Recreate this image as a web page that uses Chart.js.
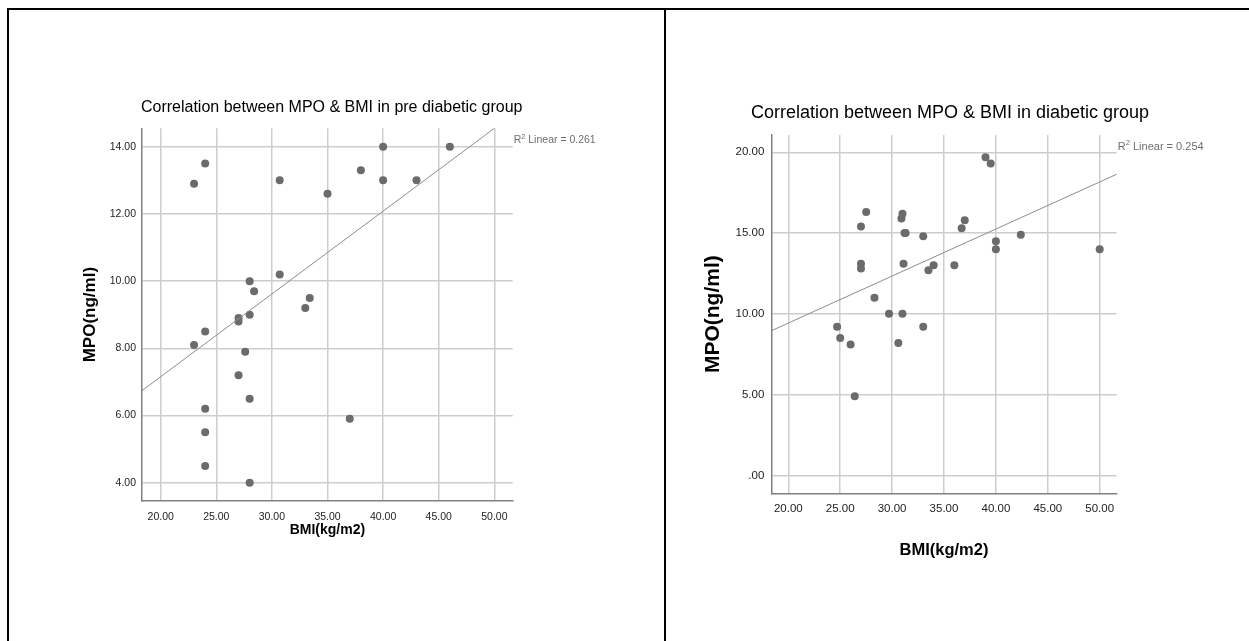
<!DOCTYPE html>
<html>
<head>
<meta charset="utf-8">
<title>Correlation between MPO & BMI</title>
<script src="https://cdn.jsdelivr.net/npm/chart.js@4.4.1/dist/chart.umd.min.js"></script>
<style>
  body { margin: 0; background: #fff; }
  .page { position: relative; width: 1249px; height: 641px; overflow: hidden; }
  .rule { position: absolute; background: #000; }
  canvas { position: absolute; }
</style>
</head>
<body>
<div class="page">
  <!-- table frame around the two figures -->
  <div class="rule" style="left:7px; top:8px; width:1242px; height:2px;"></div>
  <div class="rule" style="left:7px; top:8px; width:2px; height:633px;"></div>
  <div class="rule" style="left:664px; top:8px; width:2px; height:633px;"></div>

  <canvas id="preChart" width="544" height="460" style="left:60px; top:90px;"></canvas>
  <canvas id="diaChart" width="520" height="480" style="left:690px; top:90px;"></canvas>
</div>

<script>
// Pre diabetic group (BMI, MPO)
const preBmi = [23, 24, 30.7, 35, 38, 40, 40, 43, 46, 28, 28.4, 30.7, 33.4, 33, 27, 27, 28, 24, 23, 27.6, 27, 28, 24, 24, 24, 28, 37];
const preMpo = [12.9, 13.5, 13.0, 12.6, 13.3, 14.0, 13.0, 13.0, 14.0, 10.0, 9.7, 10.2, 9.5, 9.2, 8.9, 8.8, 9.0, 8.5, 8.1, 7.9, 7.2, 6.5, 6.2, 5.5, 4.5, 4.0, 5.9];
const preFitBmi = [18.32, 50];
const preFitMpo = [6.74, 14.55];
const preR2 = '0.261';

// Diabetic group
const diaBmi = [39, 39.5, 27.5, 27, 31, 30.9, 31.2, 31.3, 33, 36.7, 37, 40, 40, 42.4, 50, 27, 27, 31.1, 33.5, 34, 36, 28.3, 29.7, 31, 24.7, 25, 26, 30.6, 33, 26.4];
const diaMpo = [19.7, 19.3, 16.3, 15.4, 16.2, 15.9, 15.0, 15.0, 14.8, 15.3, 15.8, 14.5, 14.0, 14.9, 14.0, 13.1, 12.8, 13.1, 12.7, 13.0, 13.0, 11.0, 10.0, 10.0, 9.2, 8.5, 8.1, 8.2, 9.2, 4.9];
const diaFitBmi = [18.36, 51.64];
const diaFitMpo = [8.95, 18.64];
const diaR2 = '0.254';

// Tick values and labels
const xTicks = [20, 25, 30, 35, 40, 45, 50];
const xTickLabels = ['20.00', '25.00', '30.00', '35.00', '40.00', '45.00', '50.00'];
const preYTicks = [4, 6, 8, 10, 12, 14];
const preYTickLabels = ['4.00', '6.00', '8.00', '10.00', '12.00', '14.00'];
const diaYTicks = [0, 5, 10, 15, 20];
const diaYTickLabels = ['.00', '5.00', '10.00', '15.00', '20.00'];

const FONT = "'Liberation Sans', Arial, sans-serif";

const toPoints = (xs, ys) => xs.map((x, i) => ({ x: x, y: ys[i] }));

// Draws the "R2 Linear = ..." note at the right end of the top gridline
const r2Label = {
  id: 'r2Label',
  afterDraw(chart, args, opts) {
    const ctx = chart.ctx;
    const area = chart.chartArea;
    let x = area.right + 1;
    const y = chart.scales.y.getPixelForValue(opts.atValue) - opts.lift;
    ctx.save();
    ctx.fillStyle = '#6f6f6f';
    ctx.textBaseline = 'alphabetic';
    ctx.font = opts.size + 'px ' + FONT;
    ctx.fillText('R', x, y);
    x += ctx.measureText('R').width;
    ctx.font = (opts.size * 0.7) + 'px ' + FONT;
    ctx.fillText('2', x, y - opts.size * 0.4);
    x += ctx.measureText('2').width;
    ctx.font = opts.size + 'px ' + FONT;
    ctx.fillText(' Linear = ' + opts.value, x, y);
    ctx.restore();
  }
};

function makeChart(id, s) {
  const ctx = document.getElementById(id).getContext('2d');
  return new Chart(ctx, {
    type: 'scatter',
    data: {
      datasets: [
        {
          data: toPoints(s.bmi, s.mpo),
          backgroundColor: '#6b6b6b',
          borderWidth: 0,
          pointRadius: 4,
          order: 2
        },
        {
          type: 'line',
          data: toPoints(s.fitBmi, s.fitMpo),
          borderColor: '#8c8c8c',
          borderWidth: 1,
          pointRadius: 0,
          fill: false,
          order: 1
        }
      ]
    },
    options: {
      responsive: false,
      animation: false,
      layout: { padding: { left: 0, right: s.padRight, top: 0, bottom: 0 } },
      plugins: {
        legend: { display: false },
        tooltip: { enabled: false },
        title: {
          display: true,
          text: s.title,
          color: '#000',
          font: { family: FONT, size: s.titleSize, weight: 'normal' },
          padding: { top: s.titleTop, bottom: s.titleBottom }
        },
        r2Label: { value: s.r2, atValue: s.yTicks[s.yTicks.length - 1], size: s.r2Size, lift: s.r2Lift }
      },
      scales: {
        x: {
          type: 'linear',
          min: s.xMin,
          max: s.xMax,
          afterBuildTicks: (sc) => { sc.ticks = xTicks.map(v => ({ value: v })); },
          afterFit: (sc) => { sc.height = s.xAxisHeight; },
          ticks: {
            color: '#222',
            font: { family: FONT, size: s.tickSize },
            padding: s.xTickPad,
            maxRotation: 0,
            callback: (v, i) => xTickLabels[i]
          },
          grid: { color: '#cdcdcd', lineWidth: 1.5, drawTicks: false },
          border: { color: '#808080', width: 1.5 },
          title: {
            display: true,
            text: 'BMI(kg/m2)',
            color: '#000',
            font: { family: FONT, size: s.xTitleSize, weight: 'bold' },
            padding: { top: 0, bottom: s.xTitlePad }
          }
        },
        y: {
          type: 'linear',
          min: s.yMin,
          max: s.yMax,
          afterBuildTicks: (sc) => { sc.ticks = s.yTicks.map(v => ({ value: v })); },
          afterFit: (sc) => { sc.width = s.yAxisWidth; },
          ticks: {
            color: '#222',
            font: { family: FONT, size: s.tickSize },
            padding: s.yTickPad,
            callback: (v, i) => s.yTickLabels[i]
          },
          grid: { color: '#cdcdcd', lineWidth: 1.5, drawTicks: false },
          border: { color: '#808080', width: 1.5 },
          title: {
            display: true,
            text: 'MPO(ng/ml)',
            color: '#000',
            font: { family: FONT, size: s.yTitleSize, weight: 'bold' },
            padding: { top: s.yTitlePad, bottom: 0 }
          }
        },
        // empty box on the right, keeps room for the R2 note
        y2: {
          type: 'linear',
          position: 'right',
          grid: { display: false },
          border: { display: false },
          ticks: { display: false },
          afterFit: (sc) => { sc.width = s.rightRoom; }
        }
      }
    },
    plugins: [r2Label]
  });
}

makeChart('preChart', {
  bmi: preBmi, mpo: preMpo, fitBmi: preFitBmi, fitMpo: preFitMpo, r2: preR2,
  yTicks: preYTicks, yTickLabels: preYTickLabels,
  title: 'Correlation between MPO & BMI in pre diabetic group',
  xMin: 18.32, xMax: 51.65, yMin: 3.455, yMax: 14.55,
  titleSize: 16, titleTop: 8.4, titleBottom: 10.7,
  tickSize: 10.5, xTickPad: 9.7, yTickPad: 6,
  xTitleSize: 14, xTitlePad: 11.6, yTitleSize: 17, yTitlePad: 19.8,
  xAxisHeight: 49, yAxisWidth: 82, rightRoom: 90.7, padRight: 0.6,
  r2Size: 10.5, r2Lift: 3.5
});

makeChart('diaChart', {
  bmi: diaBmi, mpo: diaMpo, fitBmi: diaFitBmi, fitMpo: diaFitMpo, r2: diaR2,
  yTicks: diaYTicks, yTickLabels: diaYTickLabels,
  title: 'Correlation between MPO & BMI in diabetic group',
  xMin: 18.36, xMax: 51.64, yMin: -1.11, yMax: 21.07,
  titleSize: 18, titleTop: 12.2, titleBottom: 11.2,
  tickSize: 11.5, xTickPad: 8.8, yTickPad: 7,
  xTitleSize: 16.5, xTitlePad: 10.1, yTitleSize: 21, yTitlePad: 10.4,
  xAxisHeight: 76.7, yAxisWidth: 81.3, rightRoom: 93.3, padRight: 0,
  r2Size: 11, r2Lift: 2.5
});
</script>
</body>
</html>
